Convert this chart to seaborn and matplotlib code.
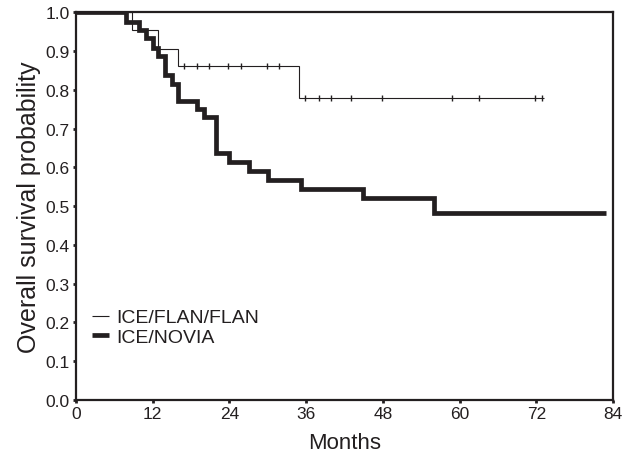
import numpy as np
import pandas as pd
import matplotlib
matplotlib.use("Agg")
import matplotlib.pyplot as plt
import seaborn as sns

# survival curves (months, probability)
flan_months = [0, 8.7, 12.9, 15.9, 34.9, 73.2]
flan_surv = [1.0, 0.953, 0.905, 0.861, 0.779, 0.779]
flan_censored = [16.9, 18.9, 20.8, 23.8, 25.8, 29.9, 31.8,
                 35.8, 38.0, 39.9, 43.0, 47.8, 58.9, 63.1, 71.8, 72.9]

novia_months = [0, 7.8, 9.8, 11.0, 12.0, 12.9, 13.9, 15.0, 15.9, 19.0,
                20.0, 21.9, 23.9, 27.0, 30.0, 35.2, 44.9, 56.0, 82.9]
novia_surv = [1.0, 0.976, 0.954, 0.934, 0.908, 0.888, 0.838, 0.815, 0.772,
              0.75, 0.729, 0.637, 0.613, 0.591, 0.566, 0.545, 0.521, 0.483, 0.483]

x_ticks = [0, 12, 24, 36, 48, 60, 72, 84]
y_ticks = [0.0, 0.1, 0.2, 0.3, 0.4, 0.5, 0.6, 0.7, 0.8, 0.9, 1.0]
y_labels = ["0.0", "0.1", "0.2", "0.3", "0.4", "0.5", "0.6", "0.7", "0.8", "0.9", "1.0"]

ink = "#231f20"

sns.set_style("ticks")
plt.rcParams["font.family"] = ["Liberation Sans", "DejaVu Sans"]

flan = pd.DataFrame({"Months": flan_months, "Survival": flan_surv})
novia = pd.DataFrame({"Months": novia_months, "Survival": novia_surv})

# survival value at each censored time (step lookup)
idx = np.searchsorted(flan_months, flan_censored, side="right") - 1
cens = pd.DataFrame({"Months": flan_censored,
                     "Survival": np.array(flan_surv)[idx]})

fig = plt.figure(figsize=(6.22, 4.56), dpi=100)
ax = fig.add_axes([0.122, 0.121, 0.8635, 0.850])

sns.lineplot(data=flan, x="Months", y="Survival", drawstyle="steps-post",
             estimator=None, color=ink, linewidth=0.8, label="ICE/FLAN/FLAN",
             solid_capstyle="butt", solid_joinstyle="miter", ax=ax)
sns.lineplot(data=novia, x="Months", y="Survival", drawstyle="steps-post",
             estimator=None, color=ink, linewidth=3.4, label="ICE/NOVIA",
             solid_capstyle="butt", solid_joinstyle="miter", ax=ax)
sns.scatterplot(data=cens, x="Months", y="Survival", marker="|", s=25,
                color=ink, linewidth=1.0, ax=ax, legend=False)

ax.set_xlim(0, 84)
ax.set_ylim(0, 1.0)
ax.set_xticks(x_ticks)
ax.set_yticks(y_ticks)
ax.set_yticklabels(y_labels)
ax.tick_params(axis="both", labelsize=12.5, length=2.5, width=2, color=ink,
               labelcolor=ink, pad=2)
for s in ax.spines.values():
    s.set_linewidth(1.6)
    s.set_color(ink)
ax.set_xlabel("Months", fontsize=16, color=ink, labelpad=8)
ax.set_ylabel("Overall survival probability", fontsize=18, color=ink, labelpad=3)

leg = ax.legend(loc="upper left", bbox_to_anchor=(0.03, 0.235), frameon=False,
                fontsize=14, handlelength=0.85, handletextpad=0.4,
                labelspacing=0.1, borderpad=0, borderaxespad=0)
for t in leg.get_texts():
    t.set_color(ink)

fig.savefig("out.png", dpi=100)
